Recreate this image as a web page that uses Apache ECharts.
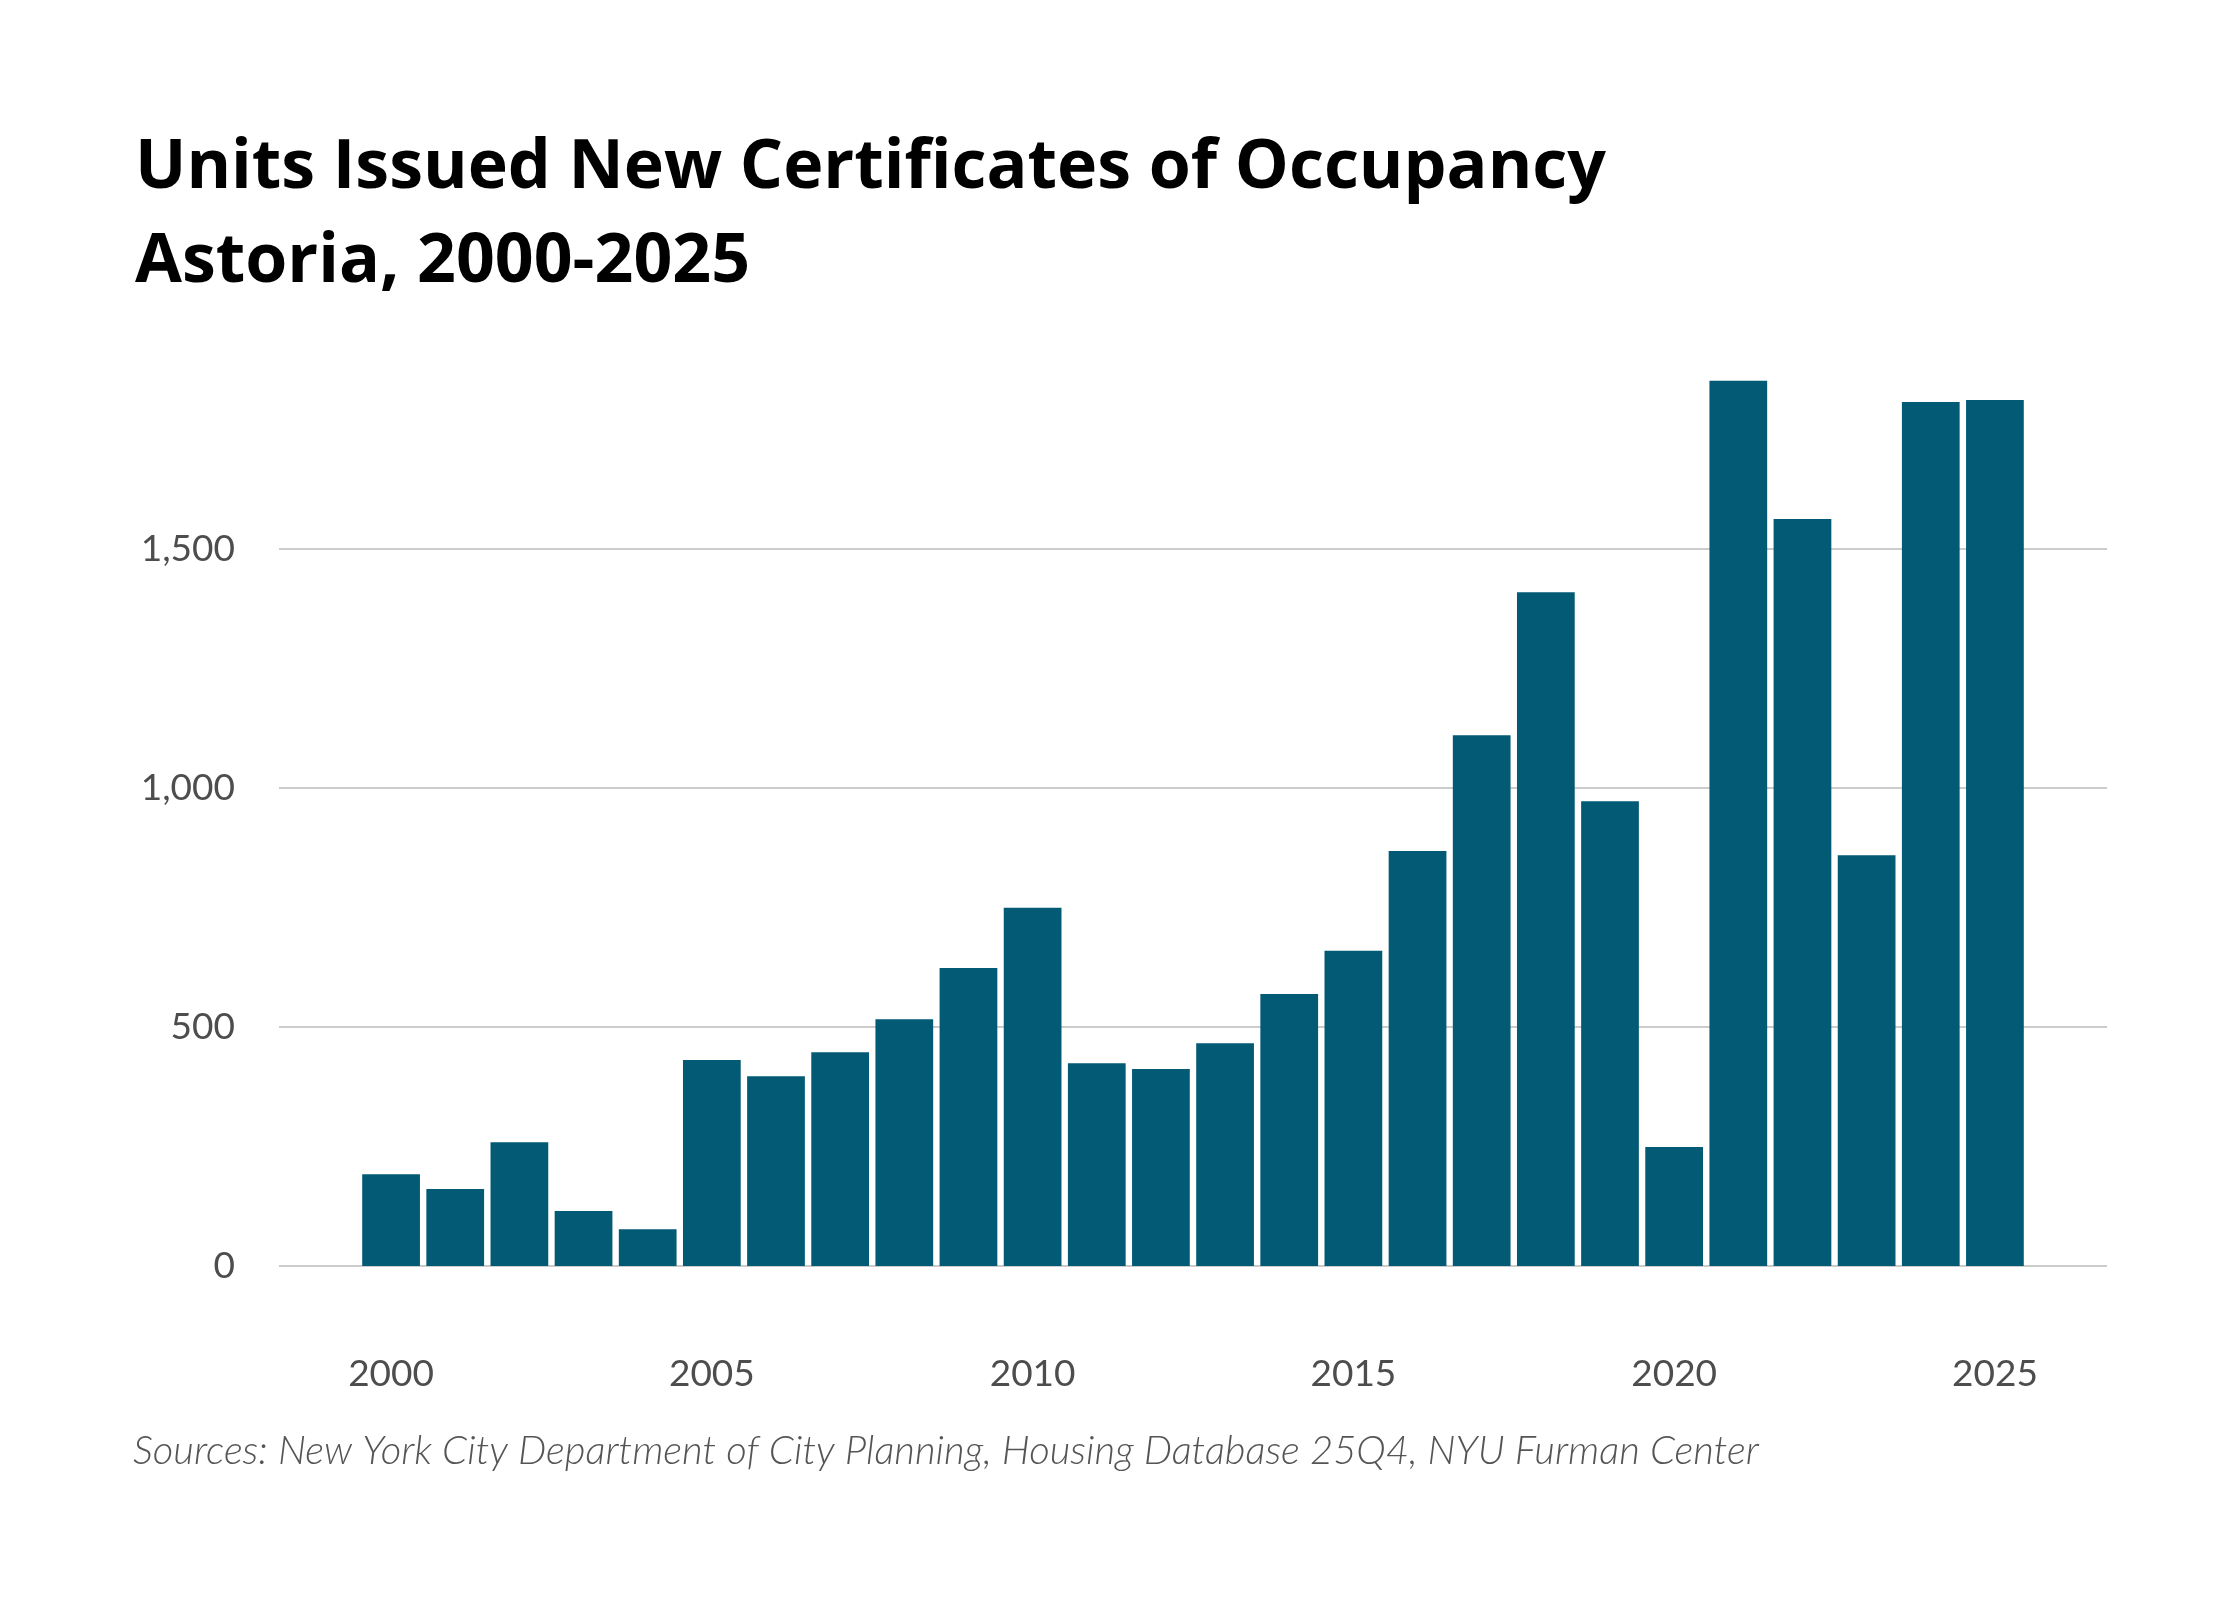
<!DOCTYPE html>
<html>
<head>
<meta charset="utf-8">
<script src="https://cdn.jsdelivr.net/npm/echarts@6/dist/echarts.min.js"></script>
<style>
  html, body { margin: 0; padding: 0; background: #ffffff; }
  #chart { width: 2240px; height: 1600px; }
</style>
</head>
<body>
<div id="chart"></div>
<script>
const years = ['2000','2001','2002','2003','2004','2005','2006','2007','2008','2009','2010','2011','2012','2013','2014','2015','2016','2017','2018','2019','2020','2021','2022','2023','2024','2025'];
const units = [192, 161, 259, 115, 77, 431, 397, 447, 516, 623, 749, 424, 412, 466, 569, 659, 868, 1110, 1409, 972, 249, 1851, 1562, 859, 1807, 1811];
const yTicks = [0, 500, 1000, 1500];
const titleLine1 = 'Units Issued New Certificates of Occupancy';
const titleLine2 = 'Astoria, 2000-2025';
const sourceText = 'Sources: New York City Department of City Planning, Housing Database 25Q4, NYU Furman Center';

const labelFont = 'Lato, "Open Sans", sans-serif';
const labelColor = '#4d4d4d';
const yMax = 2000;

const chart = echarts.init(document.getElementById('chart'));
chart.setOption({
  backgroundColor: '#ffffff',
  animation: false,
  graphic: [
    { type: 'text', left: 135, top: 135, style: { text: titleLine1, fill: '#000', fontFamily: '"Open Sans", sans-serif', fontWeight: 700, fontSize: 68 } },
    { type: 'text', left: 135, top: 229, style: { text: titleLine2, fill: '#000', fontFamily: '"Open Sans", sans-serif', fontWeight: 700, fontSize: 68 } },
    { type: 'text', left: 133, top: 1431, style: { text: sourceText, fill: '#555555', fontFamily: 'Lato, sans-serif', fontStyle: 'italic', fontWeight: 300, fontSize: 40 } }
  ],
  grid: [
    { left: 279, right: 133, top: 309.6, bottom: 334 },
    { left: 359, right: 213, top: 309.6, bottom: 334 }
  ],
  xAxis: [
    { type: 'category', gridIndex: 0, data: years, show: false },
    {
      type: 'category', gridIndex: 1, data: years,
      axisLine: { show: false }, axisTick: { show: false },
      axisLabel: { interval: 4, margin: 90, color: labelColor, fontFamily: labelFont, fontSize: 37 }
    }
  ],
  yAxis: [
    {
      type: 'value', gridIndex: 0, min: 0, max: yMax, interval: 500,
      axisLine: { show: false }, axisTick: { show: false },
      axisLabel: {
        margin: 44, color: labelColor, fontFamily: labelFont, fontSize: 37, showMaxLabel: false,
        formatter: v => yTicks.includes(v) ? v.toLocaleString('en-US') : ''
      },
      splitLine: { show: true, showMaxLine: false, lineStyle: { color: '#cccccc', width: 2 } }
    },
    {
      type: 'value', gridIndex: 1, min: 0, max: yMax, interval: 500, show: false,
      splitLine: { show: false }
    }
  ],
  series: [
    {
      type: 'bar', xAxisIndex: 1, yAxisIndex: 1, data: units,
      barCategoryGap: '10%',
      itemStyle: { color: '#025a75' }
    }
  ]
});
</script>
</body>
</html>
